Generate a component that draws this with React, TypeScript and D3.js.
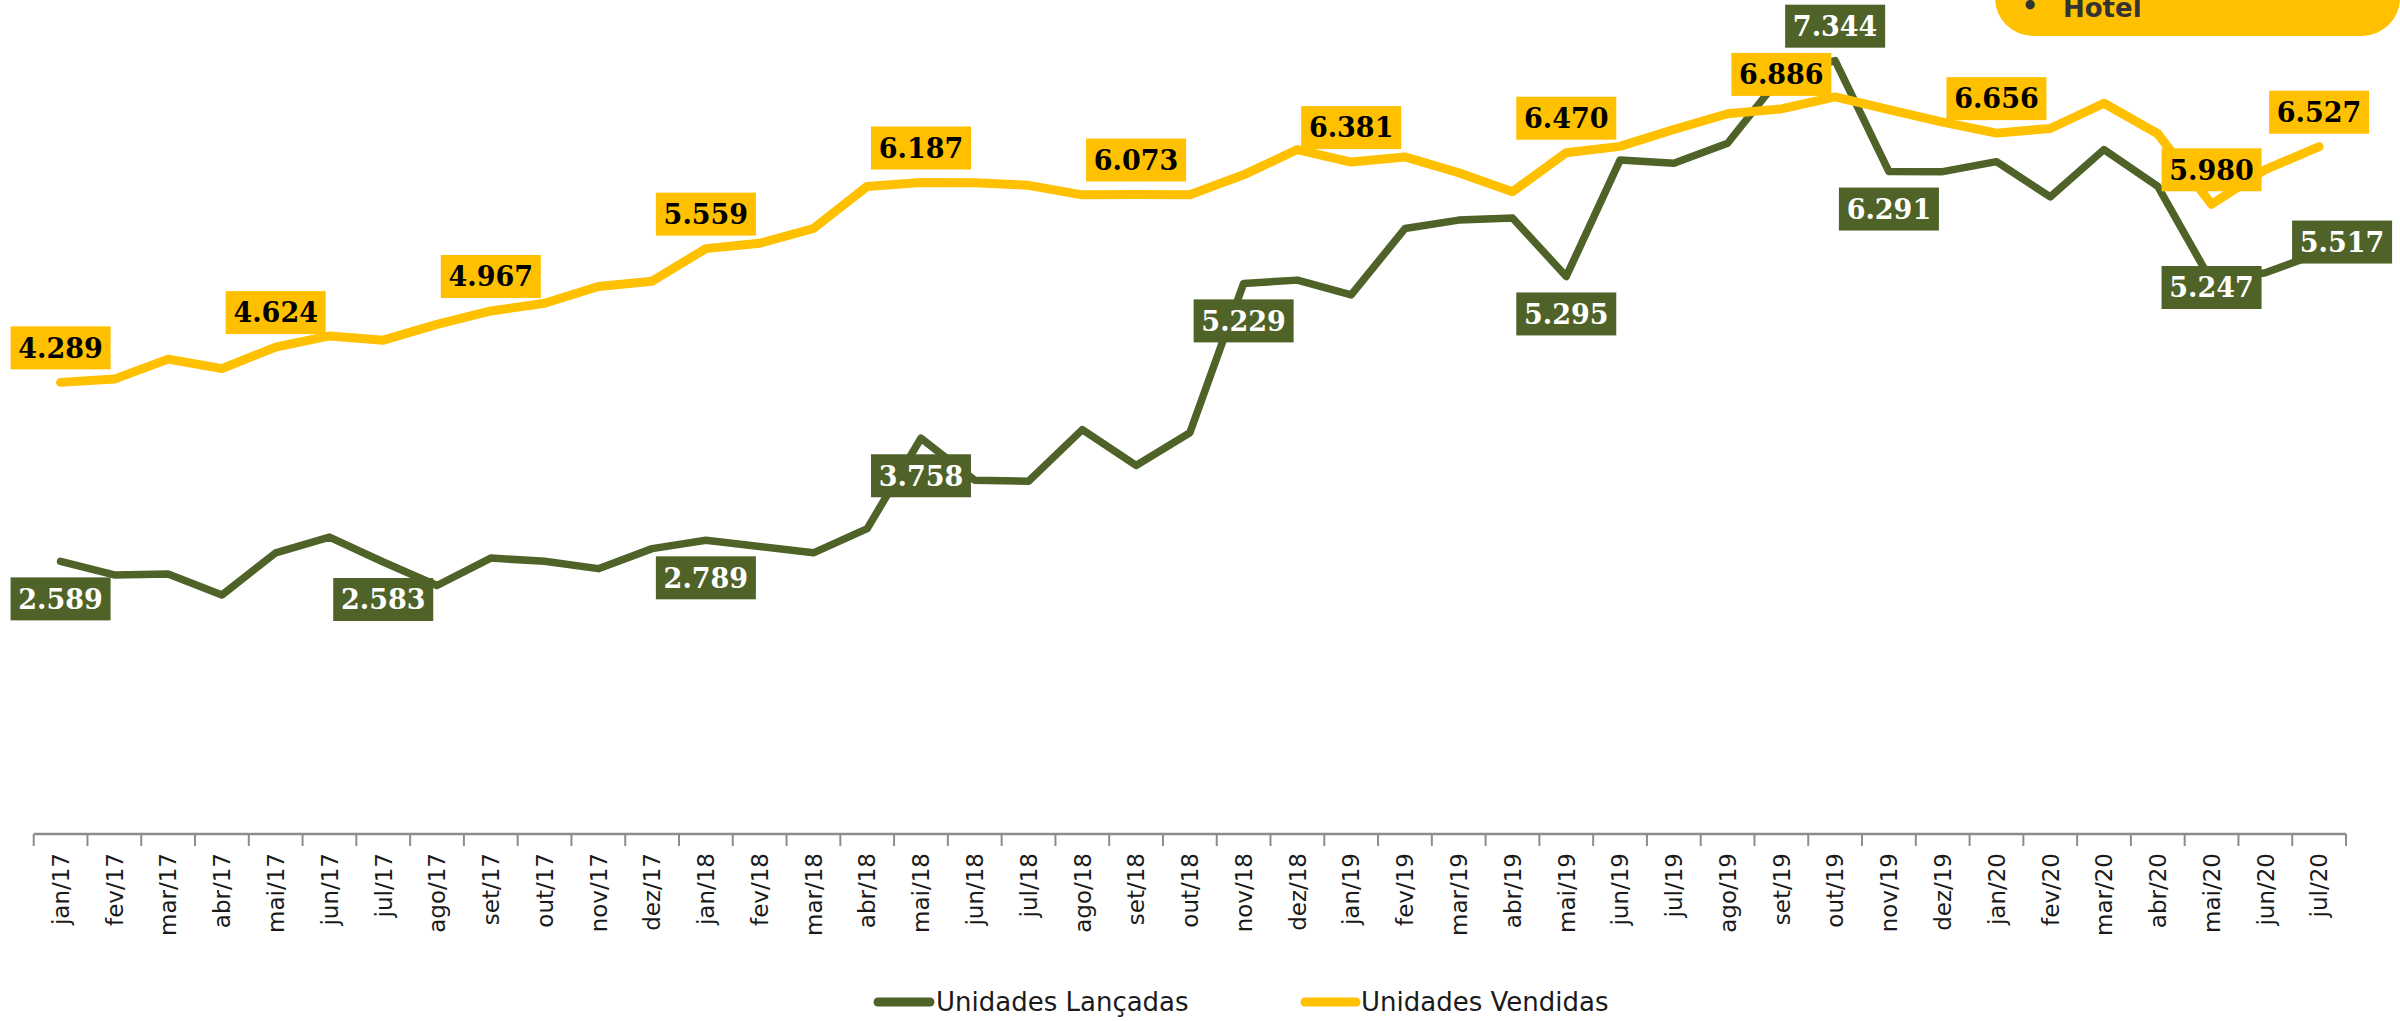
import React from "react";
import * as d3 from "d3";

const categories: string[] = [
  "jan/17", "fev/17", "mar/17", "abr/17", "mai/17", "jun/17", "jul/17", "ago/17", "set/17", "out/17", "nov/17", "dez/17",
  "jan/18", "fev/18", "mar/18", "abr/18", "mai/18", "jun/18", "jul/18", "ago/18", "set/18", "out/18", "nov/18", "dez/18",
  "jan/19", "fev/19", "mar/19", "abr/19", "mai/19", "jun/19", "jul/19", "ago/19", "set/19", "out/19", "nov/19", "dez/19",
  "jan/20", "fev/20", "mar/20", "abr/20", "mai/20", "jun/20", "jul/20",
];

const unidadesLancadas: number[] = [
  2589, 2460, 2470, 2270, 2670, 2820, 2583, 2360, 2620, 2590, 2520, 2710,
  2789, 2730, 2670, 2900, 3758, 3360, 3350, 3840, 3500, 3810, 5229, 5260,
  5120, 5750, 5830, 5850, 5295, 6400, 6370, 6560, 7200, 7344, 6291, 6290,
  6385, 6050, 6500, 6150, 5247, 5330, 5517,
];

const unidadesVendidas: number[] = [
  4289, 4320, 4510, 4420, 4624, 4730, 4690, 4840, 4967, 5040, 5200, 5250,
  5559, 5610, 5750, 6150, 6187, 6185, 6160, 6070, 6073, 6070, 6260, 6500,
  6381, 6430, 6280, 6100, 6470, 6530, 6690, 6840, 6886, 7000, 6880, 6760,
  6656, 6700, 6940, 6650, 5980, 6310, 6527,
];

// indices of labelled points and where the label sits
const lancadasLabelIdx: number[] = [0, 6, 12, 16, 22, 28, 33, 34, 40, 42];
const lancadasLabelPos: string[] = ["below", "below", "below", "below", "below", "below", "above", "below", "center", "right"];
const vendidasLabelIdx: number[] = [0, 4, 8, 12, 16, 20, 24, 28, 32, 36, 40, 42];

const seriesNames: string[] = ["Unidades Lançadas", "Unidades Vendidas"];
const badgeText = "Hotel";

const GREEN = "#4F6228";
const GOLD = "#FFC000";

const W = 2400;
const H = 1021;
const AXIS_Y = 834;

const ptBR = d3.formatLocale({ decimal: ",", thousands: ".", grouping: [3], currency: ["R$", ""] });
const fmt = ptBR.format(",.0f");

export default function App() {
  const x = d3.scaleBand<string>().domain(categories).range([33.7, 2346]).padding(0);
  const cx = (i: number) => (x(categories[i]) as number) + x.bandwidth() / 2;
  const y = d3.scaleLinear().domain([0, 8000]).range([AXIS_Y, -8.4]);

  const line = d3
    .line<number>()
    .x((_, i) => cx(i))
    .y((d) => y(d));

  const BW = 100;
  const BH = 43;

  const boxFor = (i: number, v: number, pos: string) => {
    const px = cx(i);
    const py = y(v);
    let bx = px - BW / 2;
    let by = py + 16;
    if (pos === "above") by = py - 13 - BH;
    else if (pos === "center") by = py + 6 - BH / 2;
    else if (pos === "right") {
      bx = px + 23 - BW / 2;
      by = py - 11 - BH / 2;
    }
    return { bx, by };
  };

  const tickXs = [...categories.map((c) => x(c) as number), 2346];

  return (
    <svg
      width={W}
      height={H}
      viewBox={`0 0 ${W} ${H}`}
      style={{ position: "absolute", left: 0, top: 0, background: "#fff" }}
    >
      <rect x={0} y={0} width={W} height={H} fill="#fff" />

      {/* badge top right */}
      <rect x={1995} y={-45} width={405} height={81} rx={38} ry={38} fill={GOLD} />
      <text x={2030} y={15} fontFamily="DejaVu Sans" fontSize={26} fontWeight="bold" fill="#333" textAnchor="middle">
        •
      </text>
      <text x={2063} y={17} fontFamily="DejaVu Sans" fontSize={26} fontWeight="bold" fill="#333">
        {badgeText}
      </text>

      {/* axis */}
      <line x1={33.7} x2={2346} y1={AXIS_Y} y2={AXIS_Y} stroke="#8c8c8c" strokeWidth={2.5} />
      {tickXs.map((tx, k) => (
        <line key={"t" + k} x1={tx} x2={tx} y1={AXIS_Y} y2={AXIS_Y + 12} stroke="#8c8c8c" strokeWidth={2} />
      ))}
      {categories.map((c, i) => (
        <text
          key={"l" + c}
          transform={`translate(${cx(i)},${AXIS_Y + 19}) rotate(-90)`}
          textAnchor="end"
          dy="0.36em"
          fontFamily="DejaVu Sans"
          fontSize={23}
          fill="#1a1a1a"
        >
          {c}
        </text>
      ))}

      {/* lines */}
      <path
        d={line(unidadesLancadas) || ""}
        fill="none"
        stroke={GREEN}
        strokeWidth={7.5}
        strokeLinejoin="round"
        strokeLinecap="round"
      />
      <path
        d={line(unidadesVendidas) || ""}
        fill="none"
        stroke={GOLD}
        strokeWidth={9}
        strokeLinejoin="round"
        strokeLinecap="round"
      />

      {/* green labels */}
      {lancadasLabelIdx.map((i, k) => {
        const { bx, by } = boxFor(i, unidadesLancadas[i], lancadasLabelPos[k]);
        return (
          <g key={"gl" + i}>
            <rect x={bx} y={by} width={BW} height={BH} fill={GREEN} />
            <text
              x={bx + BW / 2}
              y={by + BH / 2}
              dy="0.36em"
              textAnchor="middle"
              fontFamily="DejaVu Serif"
              fontWeight="bold"
              fontSize={27}
              fill="#fff"
            >
              {fmt(unidadesLancadas[i])}
            </text>
          </g>
        );
      })}

      {/* gold labels */}
      {vendidasLabelIdx.map((i) => {
        const { bx, by } = boxFor(i, unidadesVendidas[i], "above");
        return (
          <g key={"yl" + i}>
            <rect x={bx} y={by} width={BW} height={BH} fill={GOLD} />
            <text
              x={bx + BW / 2}
              y={by + BH / 2}
              dy="0.36em"
              textAnchor="middle"
              fontFamily="DejaVu Serif"
              fontWeight="bold"
              fontSize={27}
              fill="#000"
            >
              {fmt(unidadesVendidas[i])}
            </text>
          </g>
        );
      })}

      {/* legend */}
      <line x1={878} x2={930} y1={1002} y2={1002} stroke={GREEN} strokeWidth={9} strokeLinecap="round" />
      <text x={936} y={1002} dy="0.36em" fontFamily="DejaVu Sans" fontSize={26} fill="#1a1a1a">
        {seriesNames[0]}
      </text>
      <line x1={1305} x2={1356} y1={1002} y2={1002} stroke={GOLD} strokeWidth={9} strokeLinecap="round" />
      <text x={1361} y={1002} dy="0.36em" fontFamily="DejaVu Sans" fontSize={26} fill="#1a1a1a">
        {seriesNames[1]}
      </text>
    </svg>
  );
}
